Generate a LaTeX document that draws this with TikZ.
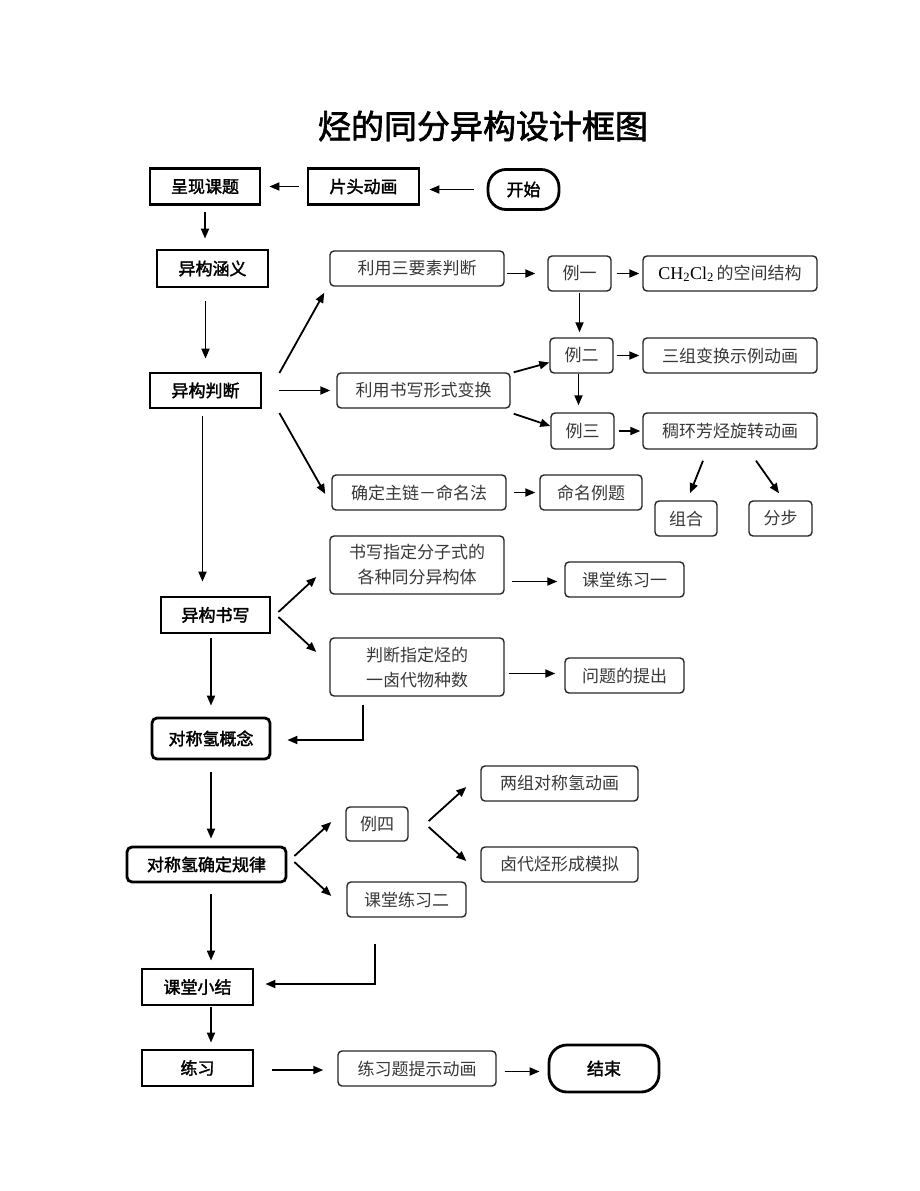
\documentclass[tikz,border=0pt]{standalone}
\usepackage{fontspec}
\setmainfont{Liberation Serif}
\newfontfamily\cjk{Noto Sans CJK SC}
\newfontfamily\cjkb[FakeBold=2]{Noto Sans CJK SC}
\usetikzlibrary{arrows.meta,calc}

\begin{document}
\begin{tikzpicture}[
    x=1pt, y=-1pt,
    thickbox/.style={rectangle, draw=black, line width=2.8pt, font=\cjkb\fontsize{17}{20}\selectfont, inner sep=0pt},
    roundthick/.style={thickbox, rounded corners=5pt},
    endcap/.style={thickbox, rounded corners=18pt},
    thinbox/.style={rectangle, rounded corners=4pt, draw=black!85, line width=1.4pt, font=\cjk\fontsize{17}{25}\selectfont, text=black!78, inner sep=0pt, align=center},
    arr/.style={-{Triangle[length=10pt,width=8pt]}, line width=1.8pt}
]
\useasboundingbox (0,0) rectangle (920,1191);

% Title
\node[font=\cjkb\fontsize{33}{36}\selectfont] (title) at (483,126) {烃的同分异构设计框图};

% Top row
\node[thickbox, minimum width=110, minimum height=36] (cx) at (205,186.5) {呈现课题};
\node[thickbox, minimum width=111, minimum height=36] (tt) at (363.5,186.5) {片头动画};
\node[endcap, minimum width=71, minimum height=40] (ks) at (523.5,189.5) {开始};

% Left column
\node[thickbox, minimum width=111, minimum height=37] (hy) at (212.5,268.5) {异构涵义};
\node[thickbox, minimum width=111, minimum height=35] (pd) at (205.5,390.5) {异构判断};
\node[thickbox, minimum width=109, minimum height=36] (yx) at (215.5,615) {异构书写};
\node[roundthick, minimum width=118, minimum height=41] (dc) at (211,738.5) {对称氢概念};
\node[roundthick, minimum width=159, minimum height=35] (dg) at (206.5,864.5) {对称氢确定规律};
\node[thickbox, minimum width=111, minimum height=36] (xj) at (197.5,987) {课堂小结};
\node[thickbox, minimum width=111, minimum height=36] (lx) at (197.5,1068) {练习};

% Isomer judgement branch
\node[thinbox, minimum width=174, minimum height=35] (s1) at (417,268.5) {利用三要素判断};
\node[thinbox, minimum width=173, minimum height=35] (s2) at (423.5,390.5) {利用书写形式变换};
\node[thinbox, minimum width=174, minimum height=35] (s3) at (419,492.5) {确定主链－命名法};
\node[thinbox, minimum width=63, minimum height=35] (e1) at (579.5,273.5) {例一};
\node[thinbox, minimum width=63, minimum height=35] (e2) at (581.5,355.5) {例二};
\node[thinbox, minimum width=63, minimum height=36] (e3) at (582.5,431) {例三};
\node[thinbox, minimum width=174, minimum height=35] (c1) at (730,273.5) {{\rmfamily\color{black}\fontsize{18}{20}\selectfont CH\textsubscript{2}Cl\textsubscript{2}}\,的空间结构};
\node[thinbox, minimum width=174, minimum height=35] (c2) at (730,355.5) {三组变换示例动画};
\node[thinbox, minimum width=174, minimum height=36] (c3) at (730,431) {稠环芳烃旋转动画};
\node[thinbox, minimum width=102, minimum height=35] (n1) at (591,492.5) {命名例题};
\node[thinbox, minimum width=62, minimum height=35] (z1) at (686,518.5) {组合};
\node[thinbox, minimum width=63, minimum height=35] (z2) at (780.5,518.5) {分步};

% Isomer writing branch
\node[thinbox, minimum width=174, minimum height=58] (b1) at (417,565) {书写指定分子式的\\各种同分异构体};
\node[thinbox, minimum width=174, minimum height=58] (b2) at (417,667) {判断指定烃的\\一卤代物种数};
\node[thinbox, minimum width=119, minimum height=35] (l1) at (624.5,579.5) {课堂练习一};
\node[thinbox, minimum width=119, minimum height=35] (l2) at (624.5,675.5) {问题的提出};

% Symmetric hydrogen branch
\node[thinbox, minimum width=62, minimum height=34] (e4) at (377,824) {例四};
\node[thinbox, minimum width=119, minimum height=35] (k2) at (406.5,899.5) {课堂练习二};
\node[thinbox, minimum width=157, minimum height=35] (t1) at (559.5,783.5) {两组对称氢动画};
\node[thinbox, minimum width=157, minimum height=35] (t2) at (559.5,864.5) {卤代烃形成模拟};

% Bottom row
\node[thinbox, minimum width=158, minimum height=35] (tx) at (417,1068.5) {练习题提示动画};
\node[endcap, minimum width=110, minimum height=47] (js) at (604,1068.5) {结束};

% Top arrows
\draw[arr, shorten <=8pt, shorten >=8pt] (tt) -- (cx);
\draw[arr, shorten <=13pt, shorten >=9pt] (ks.west) -- (ks.west -| tt.east);
\draw[arr, shorten <=6pt, shorten >=10pt] (cx.south) -- (cx.south |- hy.north);
\draw[arr, shorten <=13pt, shorten >=13pt] (pd.north |- hy.south) -- (pd.north);

% Judgement arrows
\draw[arr] ($(pd.east)+(17,-17.5)$) -- ($(s1.south west)+(-5,6)$);
\draw[arr, shorten <=17pt, shorten >=6pt] (pd.east) -- (s2.west);
\draw[arr] ($(pd.east)+(17,22.5)$) -- ($(s3.west)+(-6,1.5)$);
\draw[arr, shorten <=2pt, shorten >=12pt] (e1.west -| s1.east) -- (e1.west);
\draw[arr, shorten <=5pt, shorten >=3pt] (e1) -- (c1);
\draw[arr, shorten <=1pt, shorten >=5pt] (e1.south) -- (e1.south |- e2.north);
\draw[arr, shorten <=3pt, shorten >=3pt] (e2) -- (c2);
\draw[arr, shorten <=0pt, shorten >=7pt] ([xshift=-3pt]e2.south) -- ([xshift=-3pt]e2.south |- e3.north);
\draw[arr] ($(s2.north east)+(3,0)$) -- ($(e2.west)+(0,7)$);
\draw[arr] ($(s2.south east)+(3,5)$) -- ($(e3.west)+(0,-5)$);
\draw[arr, shorten <=4pt, shorten >=2pt] (e3) -- (c3);
\draw[arr, shorten <=7pt, shorten >=4pt] (s3) -- (n1);
\draw[arr] ($(c3.south)+(-27,11)$) -- ($(z1.north)+(4,-7)$);
\draw[arr] ($(c3.south)+(26,11)$) -- ($(z2.north)+(-1.5,-7)$);

% Writing arrows
\draw[arr, shorten <=7pt, shorten >=14pt] ([xshift=-3pt]pd.south) -- ([xshift=-3pt]pd.south |- yx.north);
\draw[arr] ($(yx.east)+(7,-3)$) -- ($(b1.west)+(-13,12)$);
\draw[arr] ($(yx.east)+(7,2)$) -- ($(b2.west)+(-13,-15)$);
\draw[arr, shorten <=7pt, shorten >=7pt] ([yshift=-2pt]l1.west -| b1.east) -- ([yshift=-2pt]l1.west);
\draw[arr, shorten <=4pt, shorten >=9pt] ([yshift=2pt]l2.west -| b2.east) -- ([yshift=2pt]l2.west);
\draw[arr, shorten <=4pt, shorten >=11pt] (dc.north |- yx.south) -- (dc.north);
\draw[arr] ($(b2.south west)+(34,8)$) |- ($(dc.east)+(16,1.5)$);

% Symmetric hydrogen arrows
\draw[arr, shorten <=12pt, shorten >=7pt] (dc.south) -- (dc.south |- dg.north);
\draw[arr] ($(dg.east)+(7,-8.5)$) -- ($(e4.west)+(-14,-2)$);
\draw[arr] ($(dg.east)+(7,-2.5)$) -- ($(k2.west)+(-15,-3.5)$);
\draw[arr] ($(e4.east)+(20,-3)$) -- ($(t1.west)+(-14,3.5)$);
\draw[arr] ($(e4.east)+(20,3)$) -- ($(t2.west)+(-14,-3.5)$);
\draw[arr, shorten <=11pt, shorten >=7pt] (dc.south |- dg.south) -- (dc.south |- xj.north);
\draw[arr] ($(k2.south west)+(29,26)$) |- ($(xj.east)+(11,-3)$);

% Bottom arrows
\draw[arr, shorten <=1pt, shorten >=6pt] (dc.south |- xj.south) -- (dc.south |- lx.north);
\draw[arr, shorten <=18pt, shorten >=14pt] ([yshift=-2pt]lx.east) -- ([yshift=-2pt]lx.east -| tx.west);
\draw[arr, shorten <=8pt, shorten >=8pt] ([yshift=-3pt]tx.east) -- ([yshift=-3pt]tx.east -| js.west);

\end{tikzpicture}
\end{document}
